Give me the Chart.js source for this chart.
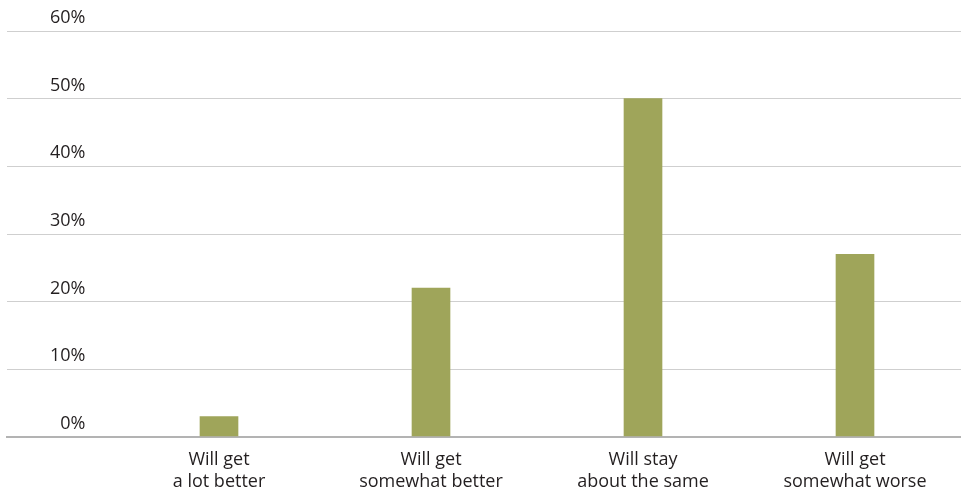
<!DOCTYPE html>
<html>
<head>
<meta charset="utf-8">
<script src="https://cdn.jsdelivr.net/npm/chart.js@4/dist/chart.umd.min.js"></script>
<style>
html,body{margin:0;padding:0;background:#fff;}
#wrap{width:961px;height:493px;position:relative;}
</style>
</head>
<body>
<div id="wrap"><canvas id="c"></canvas></div>
<script>
const categories = [
  ["Will get", "a lot better"],
  ["Will get", "somewhat better"],
  ["Will stay", "about the same"],
  ["Will get", "somewhat worse"]
];
const values = [3, 22, 50, 27];
const yTicks = [0, 10, 20, 30, 40, 50, 60];

const FONT = "'Open Sans', sans-serif";
const TEXT = "#231f20";

new Chart(document.getElementById('c'), {
  type: 'bar',
  data: {
    datasets: [{
      data: values.map((v, i) => ({x: i, y: v})),
      backgroundColor: '#9fa55a',
      borderWidth: 0,
      barThickness: 38
    }]
  },
  options: {
    responsive: true,
    maintainAspectRatio: false,
    animation: false,
    layout: {padding: {top: 31, left: 7, right: 0, bottom: 0}},
    plugins: {legend: {display: false}, tooltip: {enabled: false}},
    scales: {
      x: {
        type: 'linear',
        offset: false,
        min: -1,
        max: 3.5,
        afterBuildTicks: (scale) => { scale.ticks = categories.map((_, i) => ({value: i})); },
        afterFit: (s) => { s.paddingLeft = 0; s.paddingRight = 0; s.height = 56; },
        grid: {display: false, drawTicks: false},
        border: {display: true, color: '#b3b3b3', width: 2},
        ticks: {
          autoSkip: false,
          maxRotation: 0,
          padding: 12,
          color: TEXT,
          font: {family: FONT, size: 18},
          callback: (v) => categories[v] || ''
        }
      },
      y: {
        min: 0,
        max: 60,
        afterBuildTicks: (scale) => { scale.ticks = yTicks.map(v => ({value: v})); },
        afterFit: (s) => { s.width = 0; s.paddingTop = 0; s.paddingBottom = 0; },
        grid: {
          drawTicks: false,
          color: (ctx) => ctx.tick && ctx.tick.value === 0 ? '#b3b3b3' : '#cfcfcf',
          lineWidth: (ctx) => ctx.tick && ctx.tick.value === 0 ? 2 : 1
        },
        border: {display: false},
        ticks: {
          mirror: true,
          crossAlign: 'far',
          padding: 43,
          labelOffset: -13,
          color: TEXT,
          font: {family: FONT, size: 18},
          callback: (v) => v + '%'
        }
      }
    }
  }
});
</script>
</body>
</html>
